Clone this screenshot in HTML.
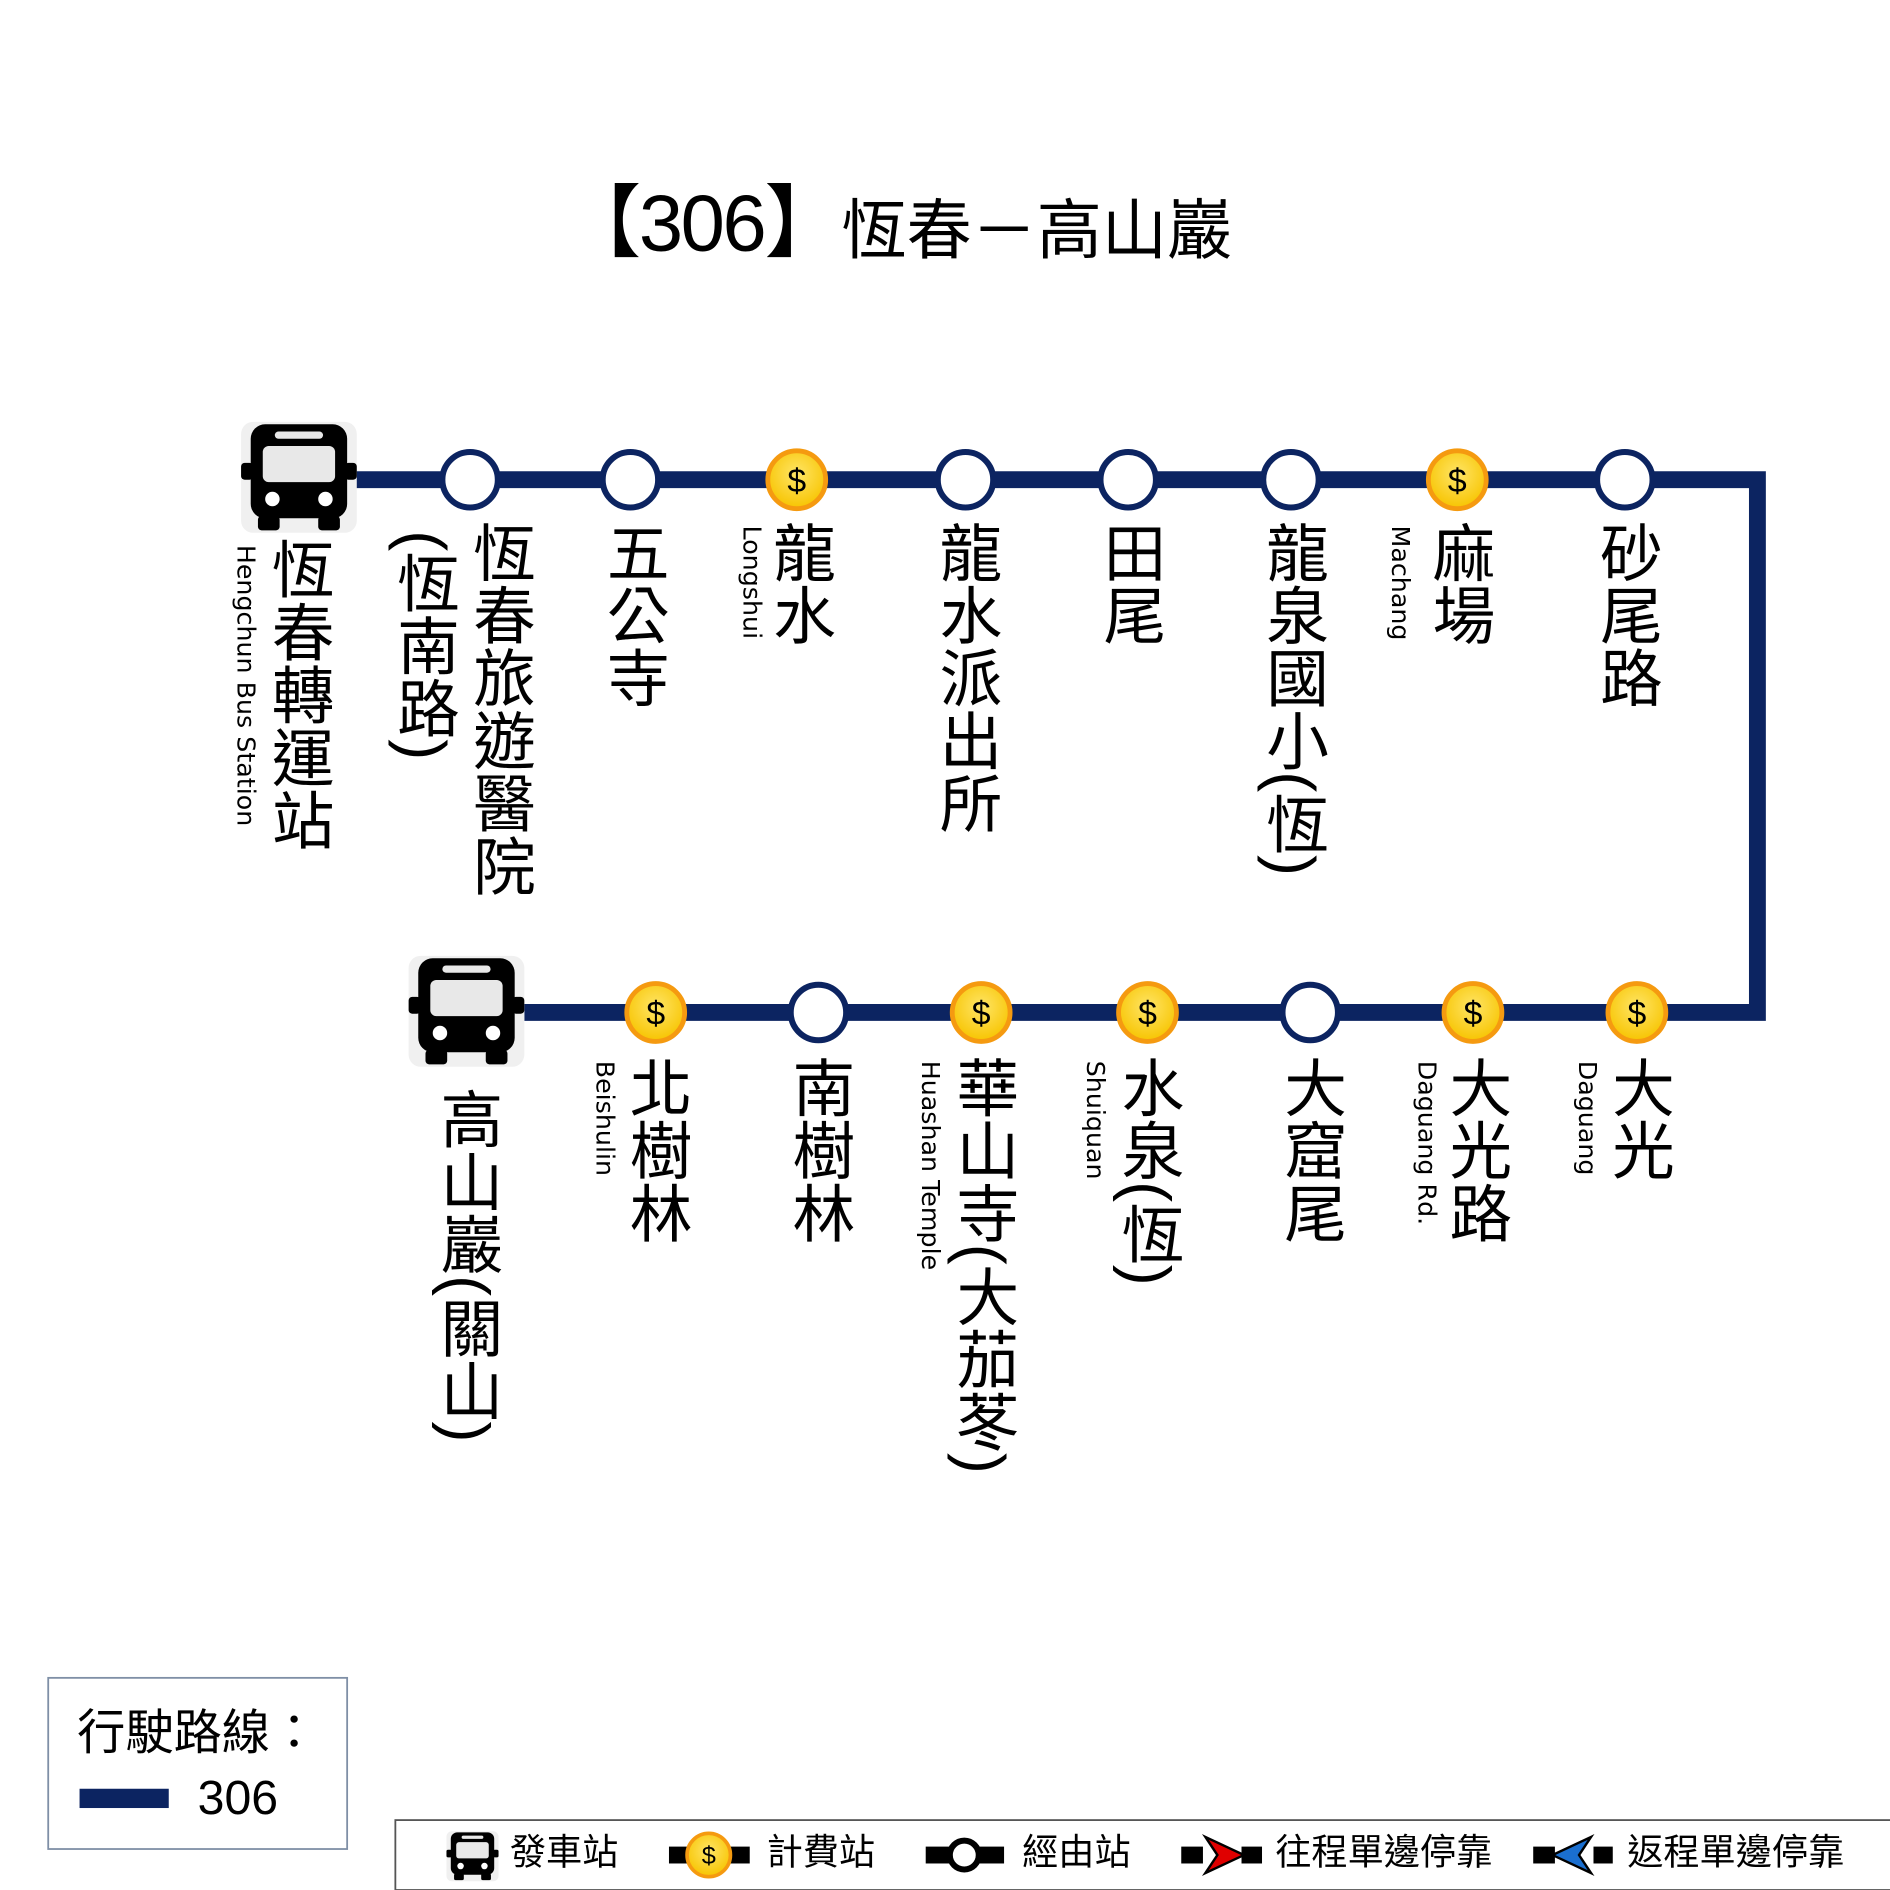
<!DOCTYPE html>
<html><head><meta charset="utf-8">
<style>
html,body{margin:0;padding:0;background:#fff;}
#wrap{position:relative;width:1568px;height:1568px;transform:scale(1.205357);transform-origin:0 0;overflow:hidden;}
.t{position:absolute;font-family:"Liberation Sans","Noto Sans CJK TC",sans-serif;color:#000;white-space:nowrap;line-height:1;}
.v{writing-mode:vertical-rl;font-size:52px;}
.e{writing-mode:vertical-rl;font-size:21px;font-family:"DejaVu Sans","Liberation Sans",sans-serif;}
svg{position:absolute;left:0;top:0;}
</style></head><body>
<div id="wrap">
<svg width="1568" height="1568" viewBox="0 0 1568 1568">
<defs>
<radialGradient id="g" cx="50%" cy="40%" r="60%"><stop offset="0" stop-color="#ffe566"/><stop offset="1" stop-color="#f7c400"/></radialGradient>
<g id="coin"><circle r="24" fill="url(#g)" stroke="#f59a10" stroke-width="4"/><text x="0" y="10" text-anchor="middle" font-family="Liberation Sans" font-size="28" fill="#000">$</text></g>
<g id="stop"><circle r="23" fill="#fff" stroke="#0c2461" stroke-width="5"/></g>
<g id="bus">
<rect x="-48" y="-46" width="96" height="92" rx="10" fill="#f0f0f0"/>
<rect x="-40" y="-44" width="80" height="78" rx="12" fill="#000"/>
<rect x="-48" y="-12" width="10" height="14" rx="3" fill="#000"/>
<rect x="38" y="-12" width="10" height="14" rx="3" fill="#000"/>
<rect x="-30" y="-26" width="60" height="30" rx="5" fill="#e8e8e8"/>
<rect x="-20" y="-38" width="40" height="6" rx="3" fill="#e8e8e8"/>
<circle cx="-22" cy="18" r="6" fill="#fff"/><circle cx="22" cy="18" r="6" fill="#fff"/>
<rect x="-34" y="32" width="18" height="12" rx="3" fill="#000"/><rect x="16" y="32" width="18" height="12" rx="3" fill="#000"/>
</g>
</defs>
<polyline points="295,398 1458,398 1458,840 435,840" fill="none" stroke="#0c2461" stroke-width="14"/>
<use href="#bus" x="248" y="396"/>
<use href="#stop" x="390" y="398"/><use href="#stop" x="523" y="398"/><use href="#coin" x="661" y="398"/>
<use href="#stop" x="801" y="398"/><use href="#stop" x="936" y="398"/><use href="#stop" x="1071" y="398"/>
<use href="#coin" x="1209" y="398"/><use href="#stop" x="1348" y="398"/>
<use href="#bus" x="387" y="839"/>
<use href="#coin" x="544" y="840"/><use href="#stop" x="679" y="840"/><use href="#coin" x="814" y="840"/>
<use href="#coin" x="952" y="840"/><use href="#stop" x="1087" y="840"/><use href="#coin" x="1222" y="840"/><use href="#coin" x="1358" y="840"/>
<rect x="40" y="1392" width="248" height="142" fill="#fff" stroke="#7f8fa6" stroke-width="1.5"/>
<rect x="66" y="1484" width="74" height="16" fill="#0c2461"/>
<rect x="328" y="1510" width="1250" height="58" fill="#fff" stroke="#555" stroke-width="1.5"/>
<g transform="translate(392,1540) scale(0.45)"><use href="#bus"/></g>
<rect x="555" y="1532" width="67" height="14" fill="#000"/>
<g transform="translate(588,1539) scale(0.75)"><use href="#coin"/></g>
<rect x="768" y="1532" width="65" height="14" fill="#000"/>
<circle cx="800" cy="1539" r="12" fill="#fff" stroke="#000" stroke-width="5"/>
<rect x="980" y="1532" width="18" height="14" fill="#000"/>
<rect x="1030" y="1532" width="17" height="14" fill="#000"/>
<polygon points="1000,1524 1032,1539 1000,1554 1010,1539" fill="#e00000" stroke="#000" stroke-width="2"/>
<rect x="1272" y="1532" width="18" height="14" fill="#000"/>
<rect x="1322" y="1532" width="16" height="14" fill="#000"/>
<polygon points="1320,1524 1288,1539 1320,1554 1310,1539" fill="#1a6fd0" stroke="#000" stroke-width="2"/>
</svg>

<div class="t" style="left:466px;top:152px;font-size:66px;letter-spacing:-2px;">【306】<span style="font-size:54px;position:relative;top:2px;letter-spacing:0;">恆春－高山巖</span></div>

<div class="t v" style="left:220px;top:446px;">恆春轉運站</div>
<div class="t e" style="left:193px;top:452px;">Hengchun Bus Station</div>
<div class="t v" style="left:387px;top:432px;">恆春旅遊醫院</div>
<div class="t v" style="left:324px;top:440px;">(恆南路)</div>
<div class="t v" style="left:498px;top:432px;">五公寺</div>
<div class="t v" style="left:636px;top:432px;">龍水</div>
<div class="t e" style="left:613px;top:436px;">Longshui</div>
<div class="t v" style="left:774px;top:432px;">龍水派出所</div>
<div class="t v" style="left:910px;top:432px;">田尾</div>
<div class="t v" style="left:1045px;top:432px;">龍泉國小(恆)</div>
<div class="t v" style="left:1183px;top:432px;">麻場</div>
<div class="t e" style="left:1151px;top:436px;">Machang</div>
<div class="t v" style="left:1322px;top:432px;">砂尾路</div>

<div class="t v" style="left:360px;top:902px;">高山巖(關山)</div>
<div class="t v" style="left:517px;top:876px;">北樹林</div>
<div class="t e" style="left:491px;top:880px;">Beishulin</div>
<div class="t v" style="left:652px;top:876px;">南樹林</div>
<div class="t v" style="left:788px;top:876px;">華山寺(大茄苳)</div>
<div class="t e" style="left:761px;top:880px;">Huashan Temple</div>
<div class="t v" style="left:925px;top:876px;">水泉(恆)</div>
<div class="t e" style="left:898px;top:880px;">Shuiquan</div>
<div class="t v" style="left:1060px;top:876px;">大窟尾</div>
<div class="t v" style="left:1197px;top:876px;">大光路</div>
<div class="t e" style="left:1173px;top:880px;">Daguang Rd.</div>
<div class="t v" style="left:1332px;top:876px;">大光</div>
<div class="t e" style="left:1306px;top:880px;">Daguang</div>

<div class="t" style="left:64px;top:1418px;font-size:40px;">行駛路線：</div>
<div class="t" style="left:164px;top:1472px;font-size:40px;">306</div>
<div class="t" style="left:423px;top:1523px;font-size:30px;">發車站</div>
<div class="t" style="left:636px;top:1523px;font-size:30px;">計費站</div>
<div class="t" style="left:848px;top:1523px;font-size:30px;">經由站</div>
<div class="t" style="left:1058px;top:1523px;font-size:30px;">往程單邊停靠</div>
<div class="t" style="left:1350px;top:1523px;font-size:30px;">返程單邊停靠</div>
</div>
</body></html>
